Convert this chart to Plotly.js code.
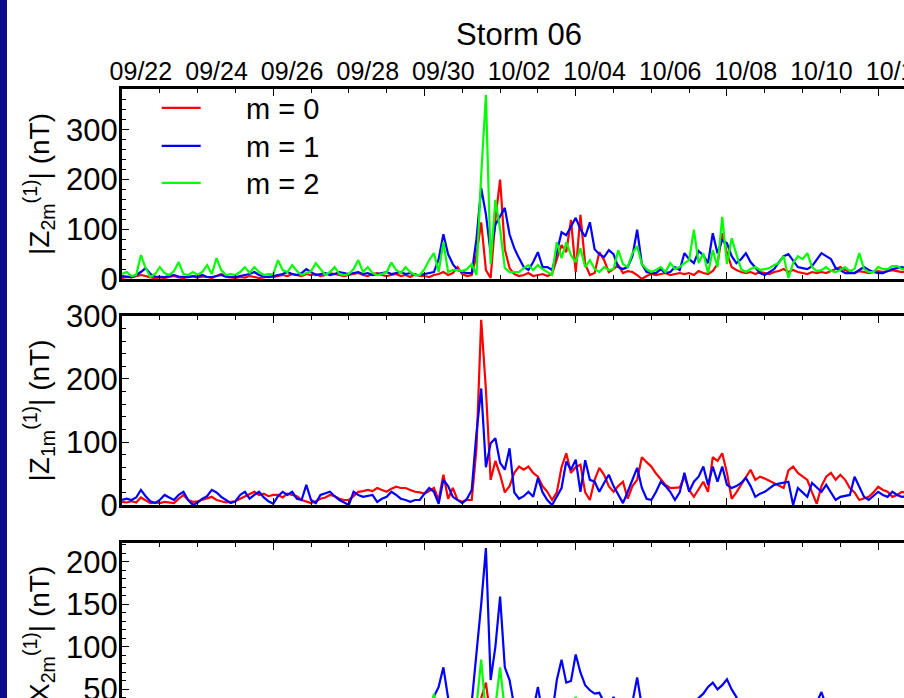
<!DOCTYPE html>
<html>
<head>
<meta charset="utf-8">
<script src="https://cdn.plot.ly/plotly-3.0.1.min.js"></script>
<style>
html,body{margin:0;padding:0;overflow:hidden;background:#fff;width:904px;height:698px;}
#chart{width:960px;height:760px;}
</style>
</head>
<body>
<div id="chart"></div>
<script>
// time grid: 3-hourly samples starting 09/21 12:00
const startTime = Date.UTC(2011, 8, 21, 12);
const stepHours = 3;

// Panel 1: |Z2m(1)| (nT)
const z2_m0 = [2,4,3,5,8,6,3,2, 3,2,4,6,3,2,4,5, 3,5,4,2,6,10,4,3, 2,4,3,6,4,2,3,5,
  4,6,8,6,10,8,6,10, 8,10,6,8,12,10,8,6, 8,10,12,8,6,10,12,8, 6,8,10,6,8,4,10,6,
  6,4,8,10,14,8,12,24, 10,6,8,48,114,18,2,120, 200,60,22,10,6,8,12,6, 8,10,6,10,40,68,54,119,
  14,129,30,8,12,54,38,14, 20,28,12,16,14,8,0,6, 10,8,10,12,8,10,12,10, 12,8,16,12,10,16,30,92,
  52,24,18,14,12,14,10,14, 12,10,14,16,20,14,18,14, 12,10,14,12,14,12,16,20, 24,18,14,12,16,14,12,14,
  16,14,16,18,16,14,16,14, 16];
const z2_m1 = [6,5,4,8,14,22,10,5, 4,4,6,8,5,4,4,6, 5,8,4,4,6,8,5,4, 4,6,8,10,14,8,5,4,
  6,8,10,14,10,8,12,20, 14,8,10,12,8,10,14,12, 10,12,14,10,12,8,10,12, 14,10,12,14,10,12,8,8,
  10,12,14,40,90,50,30,18, 14,12,12,80,183,130,52,109, 125,143,90,62,42,24,18,34, 54,24,24,18,54,94,88,105,
  123,100,85,114,60,50,44,58, 50,24,20,24,46,99,30,14, 12,12,20,12,14,24,18,52, 40,32,56,48,32,92,52,78,
  72,46,32,40,52,34,24,12, 8,14,20,34,46,50,36,24, 22,20,26,40,52,46,40,22, 18,12,12,12,18,24,18,14,
  12,12,16,20,22,24,22,20, 20];
const z2_m2 = [10,14,6,8,48,22,4,10, 24,12,8,16,34,10,8,14, 8,14,28,10,42,18,8,10, 8,14,24,12,24,14,8,10,
  10,38,18,14,28,16,8,12, 16,32,20,8,14,24,10,8, 10,20,38,14,24,12,8,10, 14,33,18,12,24,14,8,8,
  20,38,52,14,74,14,18,18, 16,20,30,8,209,370,30,159, 100,22,14,14,14,22,28,18, 28,20,14,8,74,42,74,48,
  34,62,24,38,20,14,24,18, 20,58,30,24,52,66,30,20, 14,18,24,14,32,20,24,32, 38,99,32,52,12,58,24,125,
  30,82,50,20,14,20,24,18, 20,22,28,32,46,2,32,46, 40,52,24,16,18,24,16,14, 18,24,16,20,52,20,14,14,
  24,20,20,26,26,20,20,18, 20];

// Panel 2: |Z1m(1)| (nT)
const z1_m0 = [5,4,6,4,12,8,3,4, 3,5,4,3,10,16,8,5, 6,8,10,13,8,6,4,5, 6,10,14,18,21,16,18,14,
  16,16,12,18,16,14,8,5, 3,6,10,12,16,14,10,8, 8,14,21,22,24,22,27,24, 21,26,29,27,27,24,21,20,
  18,22,27,8,48,10,27,8, 5,8,8,90,294,183,40,70, 48,20,30,51,61,56,61,51, 45,30,21,8,20,60,82,51,
  60,64,20,8,40,59,48,30, 21,30,37,10,30,40,76,68, 61,50,40,32,27,27,28,45, 24,13,25,37,21,76,70,82,
  51,10,20,32,45,56,40,45, 42,38,35,30,27,55,61,51, 45,40,20,2,30,45,51,40, 48,40,27,20,8,10,13,20,
  29,24,21,13,16,21,20,18, 18];
const z1_m1 = [8,10,8,12,24,14,6,3, 8,16,12,8,16,21,8,0, 4,10,14,24,20,13,8,3, 6,16,21,10,16,21,12,6,
  2,14,21,16,21,10,8,32, 8,3,16,18,21,14,8,4, 0,21,16,13,14,16,5,10, 13,21,16,10,8,5,8,8,
  18,27,21,2,40,30,13,8, 3,10,24,114,185,60,98,106, 67,56,90,20,10,14,21,13, 43,20,8,0,14,27,69,56,
  72,21,71,40,37,21,35,48, 30,16,3,21,40,59,27,10, 8,21,37,30,21,8,20,51, 21,37,45,61,32,61,37,61,
  32,27,30,35,43,30,13,18, 21,27,32,34,35,37,0,27, 20,13,35,28,21,32,20,8, 13,14,16,45,30,13,8,14,
  21,16,13,21,16,13,14,13, 14];

// Panel 3: |X2m(1)| (nT)
const x2_m0 = [3,4,2,5,6,4,3,2, 2,3,4,2,5,3,2,4, 3,2,4,5,3,2,4,3, 4,3,2,4,6,3,2,3,
  3,5,4,6,4,3,5,4, 4,6,5,3,4,6,5,4, 5,4,6,5,4,6,5,6, 6,5,4,6,8,5,6,4,
  5,6,8,6,10,6,5,4, 5,6,8,20,40,58,15,10, 14,10,8,6,5,6,8,6, 6,8,6,5,10,14,12,18,
  16,20,10,8,6,10,8,6, 6,8,5,6,8,6,4,5, 4,5,6,4,5,6,5,4, 5,4,6,5,4,6,8,14,
  10,6,5,4,5,6,4,5, 4,5,6,5,4,6,5,4, 5,4,5,6,4,5,6,5, 6,5,4,5,6,4,5,4,
  4,5,6,4,5,4,5,4, 5];
const x2_m1 = [12,15,10,18,22,14,10,12, 16,12,10,14,18,12,10,15, 12,18,14,10,16,20,14,12, 10,14,18,12,15,10,12,16,
  14,18,12,10,16,14,20,16, 12,10,15,18,14,12,16,10, 14,12,18,16,12,20,14,18, 16,20,22,18,24,20,28,22,
  20,30,41,53,76,40,25,15, 12,20,35,90,150,216,61,100, 159,76,61,30,20,15,20,25, 53,20,15,20,61,85,58,60,
  91,70,55,49,45,46,35,30, 41,30,25,30,35,64,30,20, 18,22,25,20,25,30,28,25, 30,35,41,45,53,58,50,55,
  62,50,41,30,25,22,20,18, 20,25,22,28,30,25,20,22, 25,22,30,35,47,30,25,20, 18,20,22,18,25,20,18,15,
  15,18,20,16,18,20,15,18, 16];
const x2_m2 = [8,10,6,12,14,8,6,10, 12,8,6,10,14,8,10,6, 8,12,10,6,14,10,8,12, 6,10,12,8,10,14,8,6,
  10,8,12,14,8,10,6,12, 8,12,10,6,10,14,12,8, 10,14,12,8,12,10,16,12, 14,18,12,16,20,14,18,22,
  10,20,45,15,12,10,8,10, 8,10,12,30,85,20,10,30, 76,25,15,10,12,10,8,10, 10,12,8,10,15,20,25,30,
  41,25,20,15,12,15,10,12, 14,10,12,8,10,16,12,10, 8,12,10,14,10,12,8,10, 12,14,10,16,18,14,20,16,
  14,12,10,8,12,10,14,10, 8,10,12,10,14,12,10,8, 10,12,8,14,12,10,8,12, 10,8,12,10,8,12,10,8,
  8,10,12,8,10,12,10,8, 10];

const seriesNames = ['m = 0', 'm = 1', 'm = 2'];
const seriesColors = ['#ff0000', '#0000ff', '#00ff00'];
const yTitles = ['|Z<sub>2m</sub><sup>(1)</sup>| (nT)', '|Z<sub>1m</sub><sup>(1)</sup>| (nT)', '|X<sub>2m</sub><sup>(1)</sup>| (nT)'];
const chartTitle = 'Storm 06';
const xRange = ['2011-09-21 12:00', '2011-10-12 12:00'];

function fmt(ms) {
  const d = new Date(ms);
  const p = n => String(n).padStart(2, '0');
  return d.getUTCFullYear() + '-' + p(d.getUTCMonth() + 1) + '-' + p(d.getUTCDate()) + ' ' + p(d.getUTCHours()) + ':00';
}
const times = z2_m0.map((_, i) => fmt(startTime + i * stepHours * 3600000));

const FONT = 'Liberation Sans, Arial, Helvetica, sans-serif';
const legendPad = '\u00a0\u00a0\u00a0\u00a0\u00a0';
const legendIds = ['legend', 'legend2', 'legend3'];

const panels = [
  {series: [z2_m0, z2_m1, z2_m2], xa: 'x', ya: 'y', legend: true},
  {series: [z1_m0, z1_m1], xa: 'x2', ya: 'y2', legend: false},
  {series: [x2_m0, x2_m1, x2_m2], xa: 'x3', ya: 'y3', legend: false}
];

const traces = [];
panels.forEach(p => {
  p.series.forEach((vals, k) => {
    traces.push({
      type: 'scatter', mode: 'lines', x: times, y: vals,
      xaxis: p.xa, yaxis: p.ya,
      name: legendPad + seriesNames[k],
      showlegend: p.legend, legend: legendIds[k],
      line: {color: seriesColors[k], width: 2.2}
    });
  });
});
// invisible carrier trace so the top date-label axis is drawn
traces.push({type: 'scatter', mode: 'lines', x: xRange, y: [null, null], xaxis: 'x4', yaxis: 'y',
  showlegend: false, hoverinfo: 'skip', line: {width: 0}});

const DAY = 86400000;
function xAx(anchor, matches) {
  const a = {
    type: 'date', range: xRange, anchor: anchor,
    showline: true, linewidth: 3, linecolor: '#000', mirror: 'allticks',
    showgrid: false, zeroline: false, showticklabels: false,
    tick0: '2011-09-25 12:00', dtick: 4 * DAY, ticks: 'inside', ticklen: 7, tickwidth: 1, tickcolor: '#000',
    minor: {tick0: '2011-09-21 12:00', dtick: DAY, ticks: 'inside', ticklen: 4, tickwidth: 1, tickcolor: '#000', showgrid: false}
  };
  if (matches) a.matches = matches;
  return a;
}
function yAx(dom, rng, dt, mdt, title, anchor) {
  return {
    domain: dom, range: rng, anchor: anchor,
    showline: true, linewidth: 3, linecolor: '#000',
    showgrid: false, zeroline: false,
    tick0: 0, dtick: dt, ticks: 'inside', ticklen: 7, tickwidth: 1, tickcolor: '#000',
    minor: {dtick: mdt, ticks: 'inside', ticklen: 4, tickwidth: 1, tickcolor: '#000', showgrid: false},
    tickfont: {family: FONT, size: 31, color: '#000'},
    ticklabelstandoff: -5,
    title: {text: title, font: {family: FONT, size: 28, color: '#000'}, standoff: 9}
  };
}
function legendAt(pxCenter) {
  return {x: 0.05 - 5 / 794, xanchor: 'left', y: 1 - (pxCenter - 89) / 643, yanchor: 'middle', yref: 'paper',
    bgcolor: 'rgba(0,0,0,0)', borderwidth: 0, itemwidth: 39,
    font: {family: FONT, size: 29, color: '#000'}};
}

const layout = {
  width: 960, height: 760,
  margin: {l: 122, r: 44, t: 89, b: 28},
  paper_bgcolor: '#fff', plot_bgcolor: '#fff',
  font: {family: FONT, color: '#000'},
  title: {text: chartTitle, font: {family: FONT, size: 31, color: '#000'}, xref: 'paper', x: 0.5, xanchor: 'center', y: 1 - 34 / 760, yanchor: 'middle'},
  xaxis: xAx('y'),
  xaxis2: xAx('y2', 'x'),
  xaxis3: xAx('y3', 'x'),
  xaxis4: {
    type: 'date', range: xRange, overlaying: 'x', anchor: 'y', side: 'top',
    showline: false, showgrid: false, zeroline: false, ticks: '',
    tick0: '2011-09-22', dtick: 2 * DAY, tickformat: '%m/%d',
    ticklabelstandoff: 3,
    tickfont: {family: FONT, size: 25, color: '#000'}
  },
  yaxis: yAx([0.7045, 1], [0, 382], 100, 20, yTitles[0], 'x'),
  yaxis2: yAx([0.353, 0.647], [0, 300], 100, 20, yTitles[1], 'x2'),
  yaxis3: yAx([0, 0.2939], [0, 222], 50, 10, yTitles[2], 'x3'),
  showlegend: true,
  legend: legendAt(108),
  legend2: legendAt(146),
  legend3: legendAt(183),
  shapes: [{type: 'rect', xref: 'paper', yref: 'paper', x0: -122 / 794, x1: -115 / 794, y0: -0.1, y1: 1.3,
    fillcolor: '#0b0b8c', line: {width: 0}, layer: 'above'}]
};

Plotly.newPlot('chart', traces, layout, {staticPlot: true, displayModeBar: false});
</script>
</body>
</html>
